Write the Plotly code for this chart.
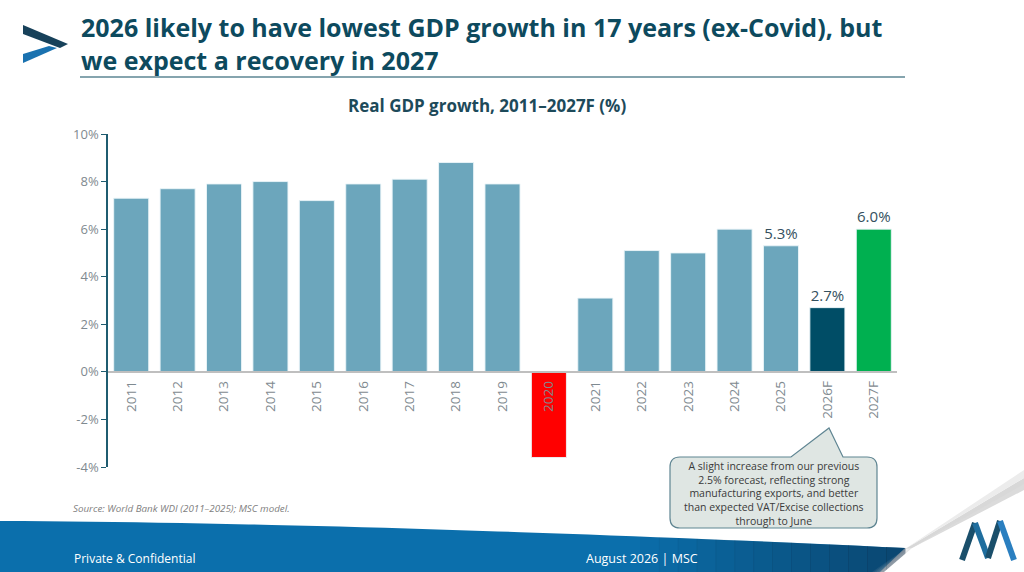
import plotly.graph_objects as go

# ---------------- data ----------------
years = ["2011", "2012", "2013", "2014", "2015", "2016", "2017", "2018", "2019",
         "2020", "2021", "2022", "2023", "2024", "2025", "2026F", "2027F"]
growth = [7.3, 7.7, 7.9, 8.0, 7.2, 7.9, 8.1, 8.8, 7.9,
          -3.6, 3.1, 5.1, 5.0, 6.0, 5.3, 2.7, 6.0]
labelled_years = ["2025", "2026F", "2027F"]
y_ticks = [-4, -2, 0, 2, 4, 6, 8, 10]
y_tick_labels = [f"{v}%" for v in y_ticks]

title_lines = ["2026 likely to have lowest GDP growth in 17 years (ex-Covid), but",
               "we expect a recovery in 2027"]
chart_title = "Real GDP growth, 2011\u20132027F (%)"
source_text = "Source: World Bank WDI (2011\u20132025); MSC model."
callout_lines = ["A slight increase from our previous",
                 "2.5% forecast, reflecting strong",
                 "manufacturing exports, and better",
                 "than expected VAT/Excise collections",
                 "through to June"]
footer_left = "Private &amp; Confidential"
footer_right = "August 2026 | MSC"

# ---------------- styles ----------------
BASE = "#6ca6bc"
special_colors = {"2020": "#ff0000", "2026F": "#004d66", "2027F": "#00b050"}
bar_colors = [special_colors.get(y, BASE) for y in years]
bar_text = [f"{v:.1f}%" if y in labelled_years else "" for y, v in zip(years, growth)]

W, H = 1024, 572
L, R, T, B = 108, 127, 134, 105
PW, PH = W - L - R, H - T - B


def px(x):
    return (x - L) / PW


def py(y):
    return (H - B - y) / PH


def poly(points):
    return "M " + " L ".join(f"{px(a):.5f},{py(b):.5f}" for a, b in points) + " Z"


FONT = "Open Sans"
TEAL = "#0d4a5e"

fig = go.Figure()
fig.add_trace(go.Bar(
    x=years, y=growth,
    marker=dict(color=bar_colors, line=dict(color="rgba(235,245,248,0.9)", width=1)),
    text=bar_text, textposition="outside", constraintext="none",
    textfont=dict(family=FONT, size=15, color="#34505e"),
    cliponaxis=False, hoverinfo="x+y",
))

ymin, ymax = y_ticks[0], y_ticks[-1]
zero_pos = (0 - ymin) / (ymax - ymin)

fig.update_layout(
    width=W, height=H,
    margin=dict(l=L, r=R, t=T, b=B),
    paper_bgcolor="white", plot_bgcolor="white",
    showlegend=False, bargap=0.245,
    font=dict(family=FONT),
    xaxis=dict(
        type="category", anchor="free", position=zero_pos,
        showline=True, linecolor="#bfbfbf", linewidth=1.5,
        ticks="", tickangle=-90, ticklabelstandoff=3,
        tickfont=dict(family=FONT, size=13.5, color="#7f8a90"),
        showgrid=False, zeroline=False, layer="above traces",
    ),
    yaxis=dict(
        range=[ymin, ymax], tickmode="array", tickvals=y_ticks, ticktext=y_tick_labels,
        showline=True, linecolor="#1f5c70", linewidth=1.5,
        ticks="outside", ticklen=5, tickcolor="#1f5c70",
        tickfont=dict(family=FONT, size=13, color="#7f8a90"),
        showgrid=False, zeroline=False,
    ),
)

shapes = []
# title underline
shapes.append(dict(type="line", xref="paper", yref="paper",
                   x0=px(80), x1=px(905), y0=py(77), y1=py(77),
                   line=dict(color=TEAL, width=1.2)))
# chevron logo
shapes.append(dict(type="path", xref="paper", yref="paper",
                   path=poly([(23, 25), (68, 44), (60, 48), (23, 34)]),
                   fillcolor="#17415a", line=dict(width=0)))
shapes.append(dict(type="path", xref="paper", yref="paper",
                   path=poly([(23, 54), (49, 46), (57, 48), (23, 63)]),
                   fillcolor="#1a72b0", line=dict(width=0)))


# footer band
def top_y(x):
    return 521 + 27 * (x / 905) ** 1.6


xs = [i * 905 / 40 for i in range(41)]
band = [(x, top_y(x)) for x in xs] + [(880, 572), (0, 572)]
shapes.append(dict(type="path", xref="paper", yref="paper", path=poly(band),
                   fillcolor="#0b6fac", line=dict(width=0), layer="below"))
# darker gradient towards the right
n = 14
for i in range(n):
    xa = 640 + i * (265 / n)
    xb = 640 + (i + 1) * (265 / n) + 0.5
    pts = [(xa, top_y(xa)), (xb, top_y(min(xb, 905))), (xb, 572), (xa, 572)]
    shapes.append(dict(type="path", xref="paper", yref="paper", path=poly(pts),
                       fillcolor=f"rgba(10,45,75,{0.05 + 0.55 * i / (n - 1):.3f})",
                       line=dict(width=0), layer="below"))
# page curl: soft shadow, white wedge
for k in range(8):
    off = k * 2.2
    shapes.append(dict(type="path", xref="paper", yref="paper",
                       path=poly([(872 + off, 572), (905 + off, 549 - off * 0.3),
                                  (1024, 482), (1024, 572)]),
                       fillcolor="rgba(200,200,200,0.10)", line=dict(width=0), layer="below"))
shapes.append(dict(type="path", xref="paper", yref="paper",
                   path=poly([(884, 572), (912, 548), (1024, 490), (1024, 572)]),
                   fillcolor="white", line=dict(width=0), layer="below"))
shapes.append(dict(type="path", xref="paper", yref="paper",
                   path=poly([(905, 549), (1024, 478), (1024, 484), (912, 548)]),
                   fillcolor="#d8d8d8", line=dict(width=0), layer="below"))
shapes.append(dict(type="path", xref="paper", yref="paper",
                   path=poly([(905, 549), (1024, 470), (1024, 478)]),
                   fillcolor="#ececec", line=dict(width=0), layer="below"))

# M logo
for (a, b, c, d, col) in [(962, 560, 975, 523, "#1a4f6b"),
                          (975, 523, 988, 558, "#1f6e9e"),
                          (988, 558, 1000, 521, "#1a4f6b"),
                          (1000, 521, 1014, 560, "#2a7fc0")]:
    shapes.append(dict(type="line", xref="paper", yref="paper",
                       x0=px(a), y0=py(b), x1=px(c), y1=py(d),
                       line=dict(color=col, width=6)))

# callout box with pointer
x0, x1, y0, y1, r = 670, 877, 457, 528, 10
pts_path = (
    f"M {px(x0 + r)},{py(y0)} L {px(791)},{py(y0)} L {px(829)},{py(428)} L {px(843)},{py(y0)} "
    f"L {px(x1 - r)},{py(y0)} Q {px(x1)},{py(y0)} {px(x1)},{py(y0 + r)} "
    f"L {px(x1)},{py(y1 - r)} Q {px(x1)},{py(y1)} {px(x1 - r)},{py(y1)} "
    f"L {px(x0 + r)},{py(y1)} Q {px(x0)},{py(y1)} {px(x0)},{py(y1 - r)} "
    f"L {px(x0)},{py(y0 + r)} Q {px(x0)},{py(y0)} {px(x0 + r)},{py(y0)} Z"
)
shapes.append(dict(type="path", xref="paper", yref="paper", path=pts_path,
                   fillcolor="#dfe6e3", line=dict(color="#5f8592", width=1.2)))

fig.update_layout(shapes=shapes)

ann = [
    dict(xref="paper", yref="paper", x=px(79), y=py(8), xanchor="left", yanchor="top",
         text="<b>" + "<br>".join(title_lines) + "</b>", align="left", showarrow=False,
         font=dict(family=FONT, size=25, color=TEAL)),
    dict(xref="paper", yref="paper", x=px(487), y=py(106), xanchor="center", yanchor="middle",
         text="<b>" + chart_title + "</b>", showarrow=False,
         font=dict(family=FONT, size=17, color="#1d4a5a")),
    dict(xref="paper", yref="paper", x=px(71), y=py(508), xanchor="left", yanchor="middle",
         text="<i>" + source_text + "</i>", showarrow=False,
         font=dict(family=FONT, size=9.8, color="#808080")),
    dict(xref="paper", yref="paper", x=px(774), y=py(493), xanchor="center", yanchor="middle",
         text="<br>".join(callout_lines), align="center", showarrow=False,
         font=dict(family=FONT, size=10.5, color="#3a3a3a")),
    dict(xref="paper", yref="paper", x=px(72), y=py(558), xanchor="left", yanchor="middle",
         text=footer_left, showarrow=False,
         font=dict(family=FONT, size=12, color="white")),
    dict(xref="paper", yref="paper", x=px(584), y=py(558), xanchor="left", yanchor="middle",
         text=footer_right, showarrow=False,
         font=dict(family=FONT, size=12.5, color="white")),
]
fig.update_layout(annotations=ann)

fig.write_html("out.html", config={"displayModeBar": False},
               post_script="document.body.style.margin='0px';document.body.style.overflow='hidden';")
